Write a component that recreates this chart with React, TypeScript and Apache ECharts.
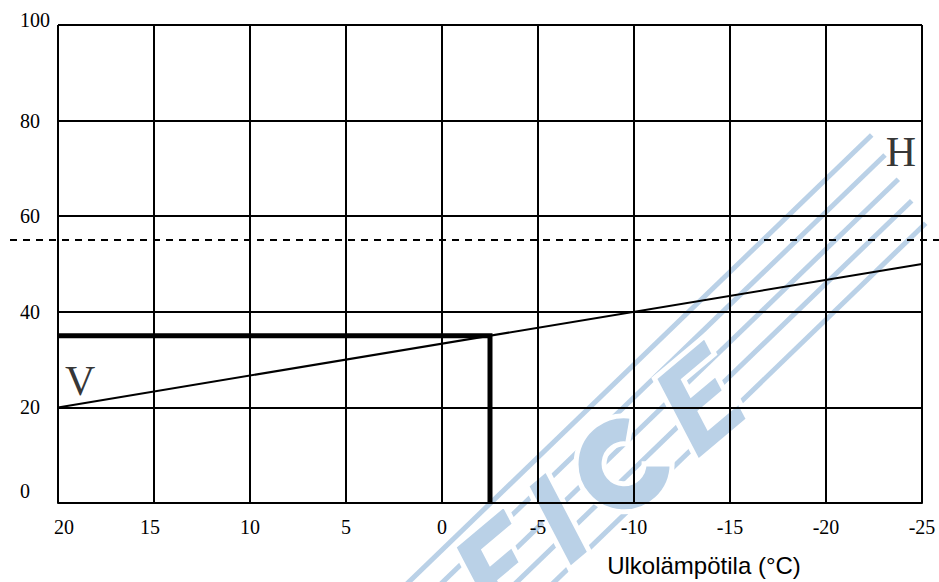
import React, { useEffect, useRef } from "react";
import * as echarts from "echarts";

// Outdoor temperature axis (°C, drawn falling from left to right) and value axis
const xTicks = [-25, -20, -15, -10, -5, 0, 5, 10, 15, 20];
const yTicks = [0, 20, 40, 60, 80, 100];

// Heating curve: supply value versus outdoor temperature
const curveOutdoor = [20, -25];
const curveValue = [20, 50];

// Reading example: outdoor temperature -2.5 °C gives 35
const readOutdoor = -2.5;
const readValue = 35;

// Upper limit (dashed, runs across the whole figure)
const limitValue = 55;

// Curve end labels
const endLabels = [
  { name: "V", x: 20, y: 25.5 },
  { name: "H", x: -25, y: 73.4 },
];

const SERIF = "Liberation Serif";
const SANS = "Liberation Sans";
const MARK = "#bad1e7";

const serifText = (extra: Record<string, unknown> = {}) => ({
  fontFamily: SERIF,
  fontSize: 20,
  color: "#000",
  ...extra,
});

// Block letter outlines of the background emblem (local units, centred on 0,0)
const F_OUTLINE = [
  [-32, 46], [-32, -46], [34, -46], [34, -24], [-6, -24], [-6, -10],
  [22, -10], [22, 10], [-6, 10], [-6, 46],
];
const I_OUTLINE = [[-13, 46], [-13, -46], [13, -46], [13, 46]];
const E_OUTLINE = [
  [-32, 46], [-32, -46], [34, -46], [34, -26], [-6, -26], [-6, -10],
  [26, -10], [26, 9], [-6, 9], [-6, 26], [34, 26], [34, 46],
];

export default function App() {
  const ref = useRef<HTMLDivElement>(null);

  useEffect(() => {
    if (!ref.current) return;
    const chart = echarts.init(ref.current, undefined, { renderer: "svg" });

    chart.setOption({
      animation: false,
      backgroundColor: "#ffffff",
      textStyle: { fontFamily: SERIF },
      grid: { left: 58, right: 17, top: 25, bottom: 77, containLabel: false },
      xAxis: {
        type: "value",
        min: xTicks[0],
        max: xTicks[xTicks.length - 1],
        interval: 5,
        inverse: true,
        name: "Ulkolämpötila (°C)",
        nameLocation: "middle",
        nameGap: 50,
        nameTextStyle: {
          fontFamily: SANS,
          fontSize: 24,
          color: "#000",
          padding: [0, 0, 0, 428],
        },
        axisLine: { show: true, onZero: false, lineStyle: { color: "#000", width: 2 } },
        axisTick: { show: false },
        splitLine: { show: true, lineStyle: { color: "#000", width: 2 } },
        axisLabel: {
          margin: 14,
          ...serifText(),
          formatter: (v: number) =>
            v === 20 ? "{l|20}" : v === 15 ? "{r|15}" : "{n|" + v + "}",
          rich: {
            n: serifText(),
            l: serifText({ padding: [0, 0, 0, 12] }),
            r: serifText({ padding: [0, 8, 0, 0] }),
          },
        },
      },
      yAxis: {
        type: "value",
        min: yTicks[0],
        max: yTicks[yTicks.length - 1],
        interval: 20,
        axisLine: { show: true, lineStyle: { color: "#000", width: 2 } },
        axisTick: { show: false },
        splitLine: { show: true, lineStyle: { color: "#000", width: 2 } },
        axisLabel: {
          align: "left",
          margin: 38,
          ...serifText(),
          formatter: (v: number) =>
            v === 100 ? "{t|100}" : v === 0 ? "{b|0}" : "{n|" + v + "}",
          rich: {
            n: serifText(),
            t: serifText({ padding: [0, 0, 11, 0] }),
            b: serifText({ padding: [0, 0, 24, 0] }),
          },
        },
      },
      series: [
        {
          name: "curve",
          type: "line",
          symbol: "none",
          silent: true,
          data: curveOutdoor.map((x, i) => [x, curveValue[i]]),
          lineStyle: { color: "#000", width: 2 },
        },
        {
          name: "reading",
          type: "line",
          symbol: "none",
          silent: true,
          data: [
            [xTicks[xTicks.length - 1], readValue],
            [readOutdoor, readValue],
            [readOutdoor, 0],
          ],
          lineStyle: { color: "#000", width: 5, join: "miter" },
        },
        {
          name: "labels",
          type: "scatter",
          symbolSize: 0,
          silent: true,
          data: endLabels.map((l) => ({
            value: [l.x, l.y],
            name: l.name,
            label: {
              show: true,
              formatter: l.name,
              position: l.name === "V" ? "right" : "left",
              distance: l.name === "V" ? 7 : 6,
              fontFamily: SERIF,
              fontSize: 42,
              color: "#000",
            },
          })),
        },
      ],
    });

    // Dashed limit line: its height comes from the value axis, it spans the figure
    const limitY = chart.convertToPixel({ yAxisIndex: 0 }, limitValue) as number;

    // Background emblem: diagonal stripes with slanted block lettering
    const stripeEnds = [
      [871.7, 135],
      [885, 155],
      [898.3, 179.3],
      [911.7, 200.7],
      [925.7, 223.3],
    ];
    const ang = (44 * Math.PI) / 180;
    const stripes = stripeEnds.map(([ex, ey]) => {
      const len = (600 - ey) / Math.sin(ang);
      return {
        type: "line",
        z: -10,
        silent: true,
        shape: { x1: ex, y1: ey, x2: ex - len * Math.cos(ang), y2: ey + len * Math.sin(ang) },
        style: { stroke: MARK, lineWidth: 5 },
      };
    });

    const slant = 0.22;
    const lean = (pts: number[][], dx: number) => pts.map(([x, y]) => [x - slant * y + dx, y]);
    const letterStyle = { fill: MARK, stroke: "#ffffff", lineWidth: 5, lineJoin: "miter" };
    const letters = [
      { type: "polygon", z: -8, silent: true, shape: { points: lean(F_OUTLINE, 0) }, style: letterStyle },
      { type: "polygon", z: -8, silent: true, shape: { points: lean(I_OUTLINE, 76) }, style: letterStyle },
      {
        type: "sector",
        z: -8,
        silent: true,
        shape: { cx: 162, cy: 0, r: 48, r0: 20, startAngle: 0.7, endAngle: Math.PI * 2 - 0.7, clockwise: true },
        style: letterStyle,
      },
      { type: "polygon", z: -8, silent: true, shape: { points: lean(E_OUTLINE, 262) }, style: letterStyle },
    ];

    chart.setOption({
      graphic: [
        ...stripes,
        {
          type: "group",
          z: -8,
          x: 500,
          y: 568,
          rotation: (40 * Math.PI) / 180,
          children: letters,
        },
        {
          type: "line",
          z: 5,
          silent: true,
          shape: { x1: 10, y1: limitY, x2: 939, y2: limitY },
          style: { stroke: "#000", lineWidth: 2, lineDash: [7, 6] },
        },
      ],
    });

    return () => chart.dispose();
  }, []);

  return (
    <div
      ref={ref}
      style={{ position: "fixed", left: 0, top: 0, width: 939, height: 582, background: "#fff" }}
    />
  );
}
